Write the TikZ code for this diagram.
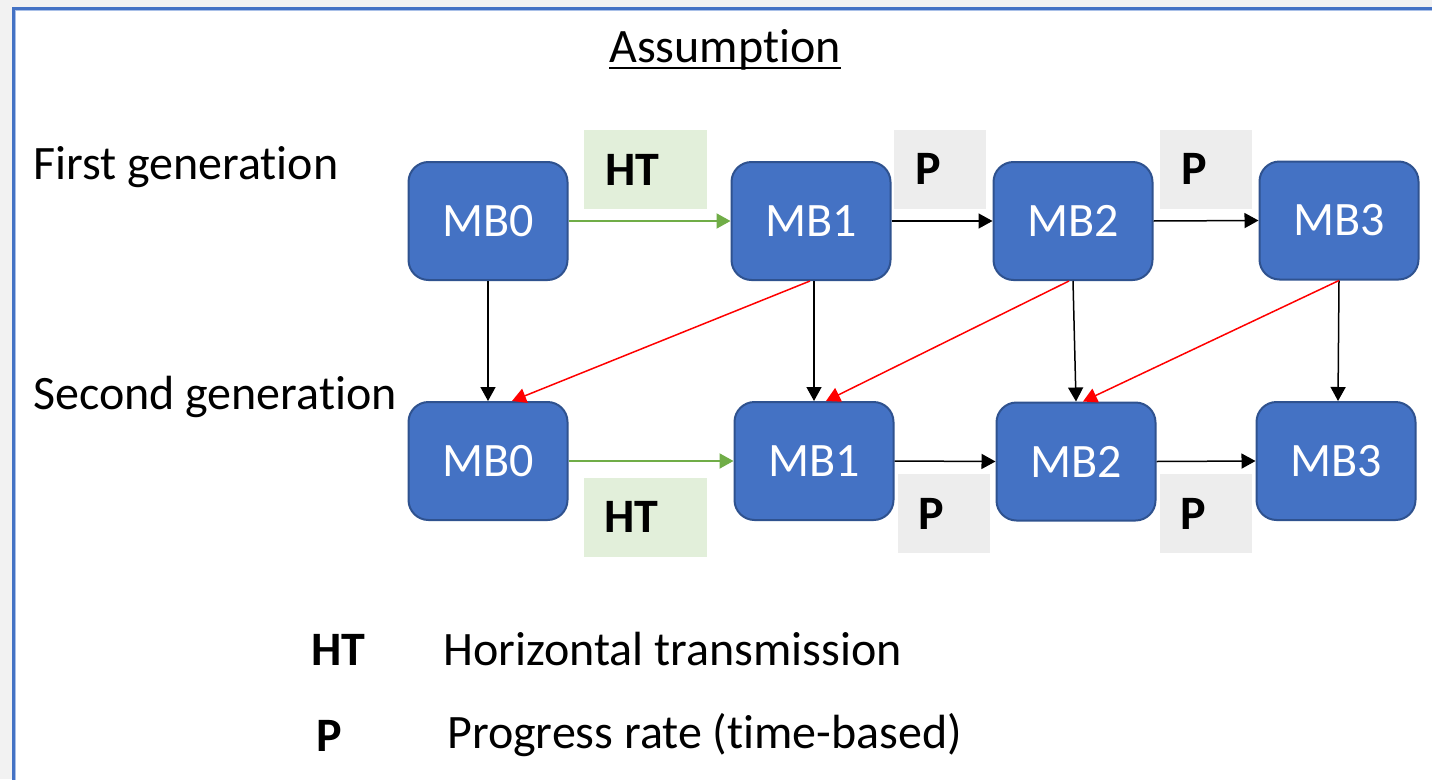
\documentclass[tikz,border=0pt]{standalone}
\usepackage{fontspec}
\setmainfont{Carlito}[Ligatures=NoCommon]
\usetikzlibrary{arrows.meta,calc}
\definecolor{mbfill}{HTML}{4472C4}
\definecolor{mbedge}{HTML}{2F528F}
\definecolor{htgreen}{HTML}{70AD47}
\definecolor{htbg}{HTML}{E2EFDA}
\definecolor{pbg}{HTML}{EDEDED}
\definecolor{pagebg}{HTML}{F2F2F2}
\definecolor{framelight}{HTML}{A9C0E8}
\definecolor{crossred}{HTML}{FF0000}
\begin{document}
\begin{tikzpicture}[x=1pt,y=-1pt,
  every node/.style={font=\fontsize{48}{57}\selectfont},
  mb/.style={draw=mbedge, line width=2, fill=mbfill, rounded corners=20,
    minimum width=159, minimum height=118, inner sep=0, text=white},
  tagbox/.style={inner xsep=21, inner ysep=0, minimum height=79, align=left,
    font=\fontsize{48}{57}\selectfont\bfseries},
  htbox/.style={tagbox, fill=htbg, text width=81},
  pbox/.style={tagbox, fill=pbg, text width=50},
  txt/.style={anchor=base west, inner sep=0},
  tip/.style={-{Triangle[length=14pt,width=15pt]}},
  link/.style={tip, draw=black, line width=1.5},
  htlink/.style={tip, draw=htgreen, line width=2, -{Triangle[length=14pt,width=15pt,fill=htgreen]}},
  cross/.style={tip, draw=crossred, line width=1.5}
]
\useasboundingbox (0,0) rectangle (1432,779);
\clip (0,0) rectangle (1432,779);

% page and frame
\fill[pagebg] (0,0) rectangle (1432,779);
\fill[white] (12,7) rectangle (1460,800);
\draw[framelight, line width=1.5] (15.5,10.5) rectangle (1460,800);
\draw[mbfill, line width=3] (13.5,8.5) rectangle (1460,800);

% title
\node[txt, anchor=base] (title) at (725,62) {Assumption};
\draw[line width=2] ([yshift=-6pt]title.base west) -- ([yshift=-6pt]title.base east);

% generation labels
\node[txt] (gen1) at (33,179) {First generation};
\node[txt] (gen2) at (33,409) {Second generation};

% label boxes
\node[htbox] (ht1) at (645.5,169.5) {HT};
\node[pbox]  (p1)  at (940,169)     {P};
\node[pbox]  (p2)  at (1206,169)    {P};
\node[htbox] (ht2) at (645,517)     {HT};
\node[pbox]  (p3)  at (943.5,513.5) {P};
\node[pbox]  (p4)  at (1205.5,513.5){P};

% first generation
\node[mb] (a0) at (488,221)   {MB0};
\node[mb] (a1) at (811,221)   {MB1};
\node[mb] (a2) at (1073,221)  {MB2};
\node[mb] (a3) at (1339,220.5){MB3};

% second generation
\node[mb] (b0) at (488,461)   {MB0};
\node[mb] (b1) at (814,461)   {MB1};
\node[mb] (b2) at (1076,461.5){MB2};
\node[mb] (b3) at (1336,461)  {MB3};

% transitions within a generation
\draw[htlink] (a0.east) -- (a1.west);
\draw[link] (a1.east) -- (a2.west);
\draw[link] (a2.east) -- (a3.west);
\draw[htlink] (b0.east) -- (b1.west);
\draw[link] (b1.east) -- (b2.west);
\draw[link] (b2.east) -- (b3.west);

% inheritance between generations
\draw[link] (a0.south) -- (b0.north);
\draw[link] (a1.south -| b1.north) -- (b1.north);
\draw[link] (a2.south) -- (b2.north);
\draw[link] (a3.south) -- ([xshift=2pt]b3.north);

% cross links
\draw[cross] ([xshift=-1pt]a1.south) -- ([xshift=24pt]b0.north);
\draw[cross] ([xshift=-4pt]a2.south) -- ([xshift=12pt]b1.north);
\draw[cross] (a3.south) -- ([xshift=7pt]b2.north);

% legend
\node[txt, font=\fontsize{48}{57}\selectfont\bfseries] (keyht) at (311,665) {HT};
\node[txt] (keyhttext) at (443,665) {Horizontal transmission};
\node[txt, font=\fontsize{48}{57}\selectfont\bfseries] (keyp) at (316,751) {P};
\node[txt] (keyptext) at (447,748) {Progress rate (time-based)};
\end{tikzpicture}
\end{document}
